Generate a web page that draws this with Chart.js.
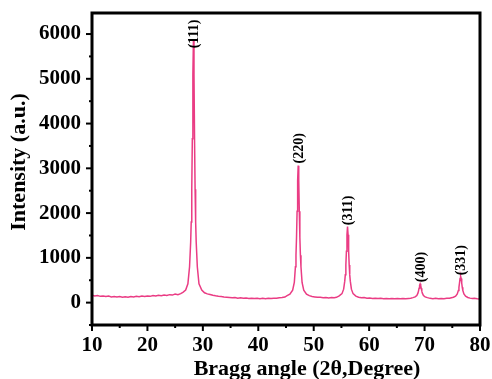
<!DOCTYPE html>
<html>
<head>
<meta charset="utf-8">
<script src="https://cdn.jsdelivr.net/npm/chart.js@4/dist/chart.umd.min.js"></script>
<style>
  html, body { margin: 0; padding: 0; background: #fff; }
  #wrap { width: 492px; height: 379px; position: relative; }
</style>
</head>
<body>
<div id="wrap"><canvas id="c" width="492" height="379"></canvas></div>
<script>
// ---- data ----
const twoTheta = [
  10.0,10.5,11.0,11.5,12.0,12.5,13.0,13.5,14.0,14.5,15.0,15.5,16.0,16.5,17.0,17.5,18.0,18.5,19.0,19.5,
  20.0,20.5,21.0,21.5,22.0,22.5,23.0,23.5,24.0,24.5,25.0,25.5,26.0,
  26.4,26.9,27.3,27.6,27.8,27.9,28.0,28.1,28.2,28.3,28.4,28.5,28.6,28.7,28.8,29.0,29.3,29.8,30.3,
  30.8,31.3,31.8,32.3,32.8,33.3,33.8,34.3,34.8,35.3,35.8,36.3,36.8,37.3,37.8,38.3,38.8,39.3,39.8,
  40.3,40.8,41.3,41.8,42.3,42.8,43.3,43.8,44.3,44.8,
  45.2,45.7,46.2,46.5,46.7,46.8,46.9,47.0,47.1,47.2,47.3,47.4,47.5,47.6,47.7,47.9,48.2,48.7,49.2,
  49.7,50.2,50.7,51.2,51.7,52.2,52.7,53.2,53.7,54.1,
  54.6,55.1,55.4,55.6,55.7,55.8,55.9,56.0,56.1,56.2,56.3,56.4,56.5,56.6,56.8,57.1,57.6,58.1,
  58.6,59.1,59.6,60.1,60.6,61.1,61.6,62.1,62.6,63.1,63.6,64.1,64.6,65.1,65.6,66.1,66.6,67.1,67.5,
  67.9,68.3,68.6,68.8,68.9,69.0,69.1,69.2,69.3,69.4,69.5,69.6,69.8,70.1,70.5,
  71.0,71.5,72.0,72.5,73.0,73.5,74.0,74.5,
  75.2,75.6,75.9,76.1,76.2,76.3,76.4,76.5,76.6,76.7,76.8,76.9,77.1,77.4,77.8,
  78.2,78.6,79.0,79.5,80.0
];
const intensity = [
  165,150,158,140,150,135,145,128,138,125,135,120,132,122,138,125,140,130,145,135,
  150,140,158,148,165,155,170,160,178,168,190,178,200,
  230,280,420,800,1350,1800,2530,3660,5090,5870,5090,3660,2530,1800,1350,800,420,280,220,
  195,180,165,152,142,135,126,120,114,108,112,100,106,96,102,92,100,90,96,
  86,95,88,98,90,100,96,108,112,125,
  155,190,280,450,800,1060,1460,2040,2720,3060,2720,2040,1460,1060,800,450,280,190,155,
  135,128,118,122,110,116,106,112,108,118,
  150,200,300,480,620,840,1150,1515,1700,1515,1150,840,620,480,300,200,145,122,
  108,112,100,104,94,100,90,96,88,94,86,92,84,90,85,92,86,94,98,
  111,127,160,212,257,320,387,420,387,320,257,212,160,127,111,
  95,88,96,86,94,88,95,98,
  120,144,194,273,342,438,541,590,541,438,342,273,194,144,115,
  100,92,96,85,80
];
const peakLabels = ["(111)", "(220)", "(311)", "(400)", "(331)"];
const peakAngles = [28.3, 47.2, 56.1, 69.2, 76.5];
const labelBase  = [5680, 3110, 1730, 455, 610];
const xTickValues = [10, 20, 30, 40, 50, 60, 70, 80];
const yTickValues = [0, 1000, 2000, 3000, 4000, 5000, 6000];
const xTitle = "Bragg angle (2\u03b8,Degree)";
const yTitle = "Intensity (a.u.)";

const points = twoTheta.map((t, i) => ({ x: t, y: intensity[i] }));
const SERIF = "'Liberation Serif', 'Times New Roman', serif";

const decor = {
  id: 'decor',
  afterDraw(chart) {
    const ctx = chart.ctx;
    const a = chart.chartArea;
    const xs = chart.scales.x, ys = chart.scales.y;
    ctx.save();
    ctx.strokeStyle = '#000';
    ctx.fillStyle = '#000';
    // ticks (major + minor), outward
    ctx.lineWidth = 2;
    for (let v = 10; v <= 80; v += 5) {
      const px = xs.getPixelForValue(v);
      const len = (v % 10 === 0) ? 6 : 3;
      ctx.beginPath(); ctx.moveTo(px, a.bottom); ctx.lineTo(px, a.bottom + len); ctx.stroke();
    }
    for (let v = -500; v <= 6000; v += 500) {
      const py = ys.getPixelForValue(v);
      const len = (v % 1000 === 0) ? 6 : 3;
      ctx.beginPath(); ctx.moveTo(a.left, py); ctx.lineTo(a.left - len, py); ctx.stroke();
    }
    // frame
    ctx.lineWidth = 3;
    ctx.strokeRect(a.left, a.top, a.right - a.left, a.bottom - a.top);
    // peak labels
    ctx.font = "bold 14px " + SERIF;
    ctx.textAlign = 'left';
    ctx.textBaseline = 'middle';
    peakLabels.forEach((lab, i) => {
      const px = xs.getPixelForValue(peakAngles[i]);
      const py = ys.getPixelForValue(labelBase[i]);
      ctx.save();
      ctx.translate(px, py);
      ctx.rotate(-Math.PI / 2);
      ctx.fillText(lab, 0, 1);
      ctx.restore();
    });
    // axis titles
    ctx.font = "bold 22px " + SERIF;
    ctx.textAlign = 'center';
    ctx.textBaseline = 'alphabetic';
    ctx.fillText(xTitle, 307, 375);
    ctx.save();
    ctx.translate(25, 162);
    ctx.rotate(-Math.PI / 2);
    ctx.fillText(yTitle, 0, 0);
    ctx.restore();
    ctx.restore();
  }
};

new Chart(document.getElementById('c'), {
  type: 'line',
  data: {
    datasets: [{
      data: points,
      borderColor: '#EA3C84',
      borderWidth: 1.5,
      pointRadius: 0,
      tension: 0,
      fill: false
    }]
  },
  options: {
    responsive: false,
    animation: false,
    devicePixelRatio: 1,
    layout: { padding: { left: 0, right: 12, top: 13, bottom: 0 } },
    plugins: { legend: { display: false }, tooltip: { enabled: false } },
    scales: {
      x: {
        type: 'linear',
        min: 10, max: 80,
        afterFit(s) { s.height = 54; s.paddingLeft = 0; s.paddingRight = 0; },
        afterBuildTicks(s) { s.ticks = xTickValues.map(v => ({ value: v })); },
        grid: { display: false, drawTicks: false },
        border: { display: false },
        ticks: {
          padding: 8,
          color: '#000',
          font: { family: SERIF, size: 21, weight: 'bold' },
          maxRotation: 0,
          callback: v => String(v)
        }
      },
      y: {
        type: 'linear',
        min: -500, max: 6470,
        afterFit(s) { s.width = 92; s.paddingTop = 0; s.paddingBottom = 0; },
        afterBuildTicks(s) { s.ticks = yTickValues.map(v => ({ value: v })); },
        grid: { display: false, drawTicks: false },
        border: { display: false },
        ticks: {
          padding: 11,
          color: '#000',
          font: { family: SERIF, size: 21, weight: 'bold' },
          callback: v => String(v)
        }
      }
    }
  },
  plugins: [decor]
});
</script>
</body>
</html>
